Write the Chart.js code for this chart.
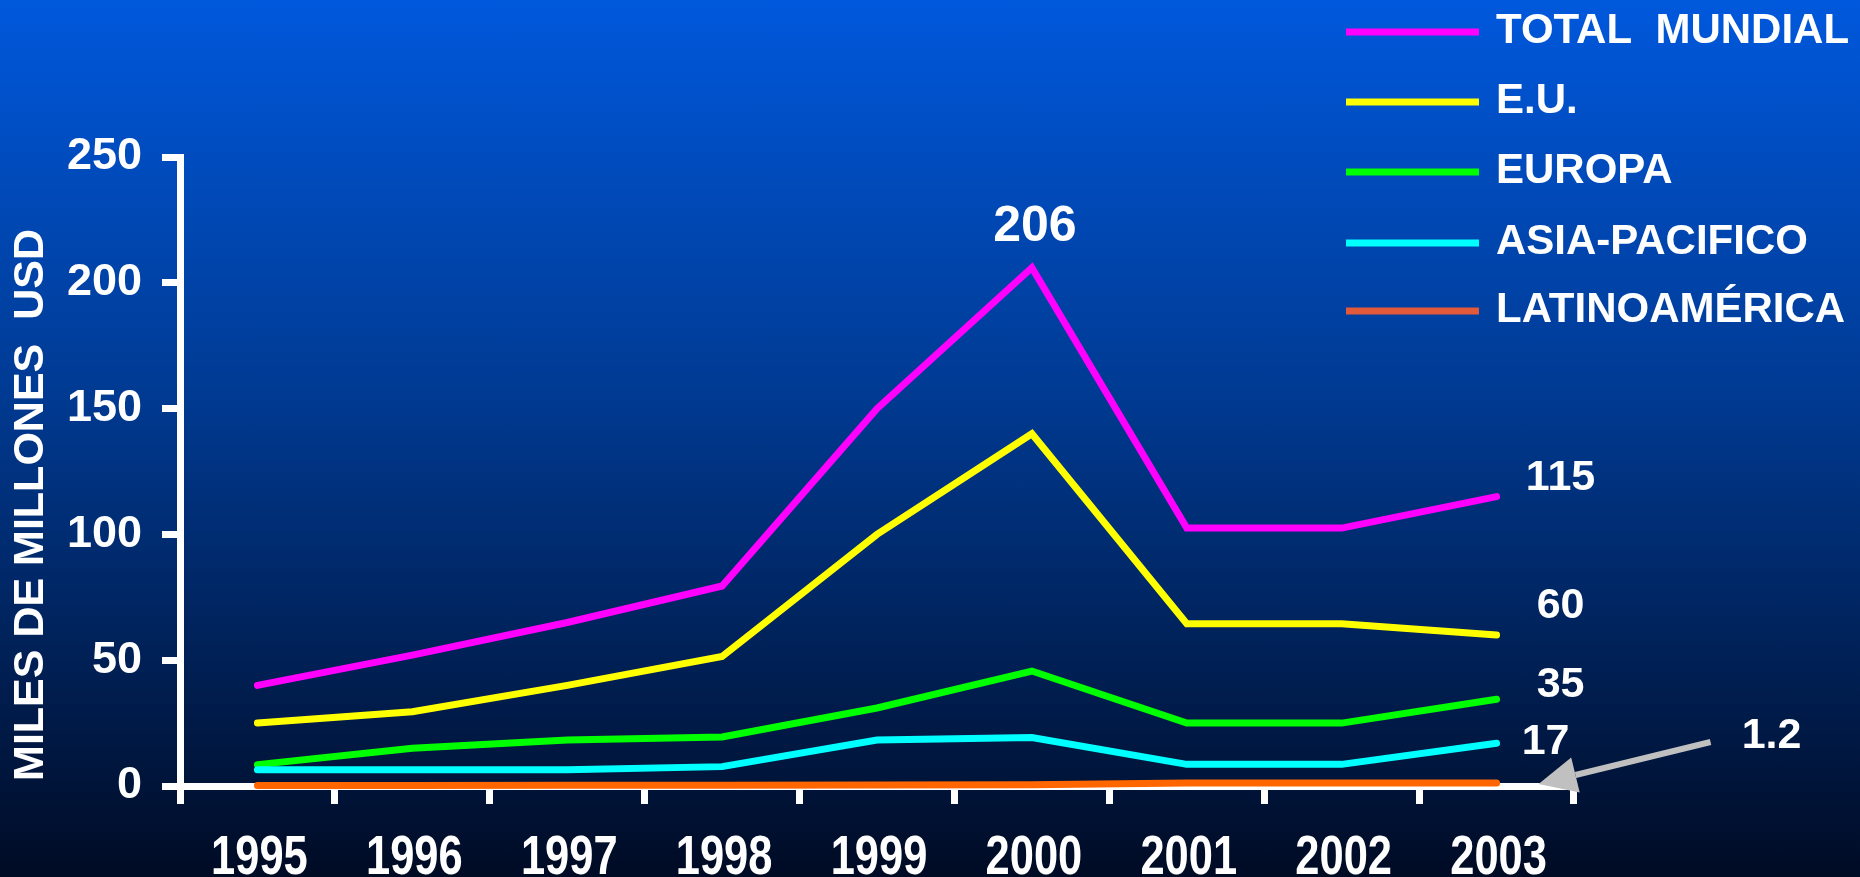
<!DOCTYPE html>
<html>
<head>
<meta charset="utf-8">
<script src="https://cdn.jsdelivr.net/npm/chart.js@4.4.1/dist/chart.umd.min.js"></script>
<style>
  html, body { margin: 0; padding: 0; }
  body { background: linear-gradient(to bottom, #0058dc 0%, #003a92 45%, #000b24 100%); }
  #wrap { position: relative; width: 1860px; height: 877px; }
</style>
</head>
<body>
<div id="wrap"><canvas id="chart"></canvas></div>
<script>
// data (miles de millones USD)
const years = ['1995', '1996', '1997', '1998', '1999', '2000', '2001', '2002', '2003'];
const totalMundial = [40, 52, 65, 79.5, 150, 206, 102.5, 102.5, 115];
const eu = [25, 29.5, 40, 51.5, 100, 140, 64.5, 64.5, 60];
const europa = [8.5, 15, 18.3, 19.5, 31, 45.7, 25, 25, 34.5];
const asiaPacifico = [6.5, 6.5, 6.5, 7.7, 18.3, 19.3, 8.6, 8.6, 17];
const latinoamerica = [0.2, 0.2, 0.3, 0.3, 0.4, 0.5, 1.2, 1.2, 1.2];
const yTicks = [0, 50, 100, 150, 200, 250];
const endLabels = ['115', '60', '35', '17', '1.2'];
const peakLabel = '206';

const FONT = "'Liberation Sans', Arial, sans-serif";

function line(label, data, color, legendColor, order) {
    return {
        label, data, order,
        borderColor: color, legendColor: legendColor || color,
        borderWidth: 7, pointRadius: 0, tension: 0,
        borderCapStyle: 'round', borderJoinStyle: 'miter',
        fill: false, clip: false
    };
}

// legend, axis title, narrow year labels, value labels and the arrow
const decor = {
    id: 'decor',
    afterDraw(chart) {
        const ctx = chart.ctx;
        const xs = chart.scales.x, ys = chart.scales.y;
        ctx.save();
        ctx.fillStyle = '#fff';

        // legend top right
        const legY = [32, 102, 172, 243, 311];
        chart.data.datasets.forEach((ds, i) => {
            ctx.strokeStyle = ds.legendColor;
            ctx.lineWidth = 7;
            ctx.beginPath();
            ctx.moveTo(1346, legY[i]);
            ctx.lineTo(1479, legY[i]);
            ctx.stroke();
            ctx.font = 'bold 42px ' + FONT;
            ctx.textAlign = 'left';
            ctx.textBaseline = 'middle';
            ctx.fillText(ds.label, 1496, legY[i] - 1);
        });

        // y axis title
        ctx.save();
        ctx.translate(31, 505);
        ctx.rotate(-Math.PI / 2);
        ctx.font = 'bold 43px ' + FONT;
        ctx.textAlign = 'center';
        ctx.textBaseline = 'middle';
        ctx.fillText('MILES DE MILLONES  USD', 0, 0);
        ctx.restore();

        // year labels, condensed like Arial Narrow
        ctx.font = 'bold 55px ' + FONT;
        ctx.textAlign = 'center';
        ctx.textBaseline = 'middle';
        years.forEach((y, i) => {
            ctx.save();
            ctx.translate(xs.getPixelForValue(i) + 2, xs.bottom - 18);
            ctx.scale(0.79, 1);
            ctx.fillText(y, 0, 0);
            ctx.restore();
        });

        // peak label
        const last = years.length - 1;
        ctx.font = 'bold 50px ' + FONT;
        ctx.fillText(peakLabel, xs.getPixelForValue(5) + 3, ys.getPixelForValue(totalMundial[5]) - 40);

        // end labels
        const ends = [totalMundial, eu, europa, asiaPacifico];
        const offs = [[64, -19], [64, -29], [64, -14], [49, -1]];
        ctx.font = 'bold 43px ' + FONT;
        ends.forEach((arr, i) => {
            ctx.fillText(endLabels[i], xs.getPixelForValue(last) + offs[i][0], ys.getPixelForValue(arr[last]) + offs[i][1]);
        });

        // latam arrow + label
        const px = xs.getPixelForValue(last), py = ys.getPixelForValue(latinoamerica[last]);
        ctx.fillText(endLabels[4], px + 275, py - 47);
        const sx = px + 214, sy = py - 41, tx = px + 42, ty = py + 1;
        const dx = tx - sx, dy = ty - sy, len = Math.hypot(dx, dy);
        const ux = dx / len, uy = dy / len;
        const bx = tx - 38 * ux, by = ty - 38 * uy;
        ctx.strokeStyle = '#c0c0c0';
        ctx.fillStyle = '#c0c0c0';
        ctx.lineWidth = 6;
        ctx.beginPath();
        ctx.moveTo(sx, sy);
        ctx.lineTo(bx, by);
        ctx.stroke();
        ctx.beginPath();
        ctx.moveTo(tx, ty);
        ctx.lineTo(bx - 18 * uy, by + 18 * ux);
        ctx.lineTo(bx + 18 * uy, by - 18 * ux);
        ctx.closePath();
        ctx.fill();
        ctx.restore();
    }
};

new Chart(document.getElementById('chart'), {
    type: 'line',
    data: {
        labels: years,
        datasets: [
            line('TOTAL  MUNDIAL', totalMundial, '#ff00ff', null, 5),
            line('E.U.', eu, '#ffff00', null, 4),
            line('EUROPA', europa, '#00ff00', null, 3),
            line('ASIA-PACIFICO', asiaPacifico, '#00ffff', null, 2),
            line('LATINOAMÉRICA', latinoamerica, '#ff6600', '#e35a3a', 1)
        ]
    },
    options: {
        responsive: true, maintainAspectRatio: false, animation: false,
        layout: { padding: { top: 157, right: 286, bottom: 0, left: 0 } },
        plugins: { legend: { display: false }, tooltip: { enabled: false } },
        scales: {
            x: {
                offset: true,
                afterFit(s) { s.height = 91; },
                grid: { offset: true, drawOnChartArea: false, drawTicks: true, tickLength: 18, tickWidth: 7, tickColor: '#fff' },
                border: { color: '#fff', width: 7 },
                ticks: { display: false }
            },
            y: {
                min: 0, max: 250,
                afterFit(s) { s.width = 180; },
                afterBuildTicks(s) { s.ticks = yTicks.map(v => ({ value: v })); },
                grid: { drawOnChartArea: false, drawTicks: true, tickLength: 18, tickWidth: 7, tickColor: '#fff' },
                border: { color: '#fff', width: 7 },
                ticks: { color: '#fff', padding: 20, font: { family: FONT, size: 45, weight: 'bold' } }
            }
        }
    },
    plugins: [decor]
});
</script>
</body>
</html>
